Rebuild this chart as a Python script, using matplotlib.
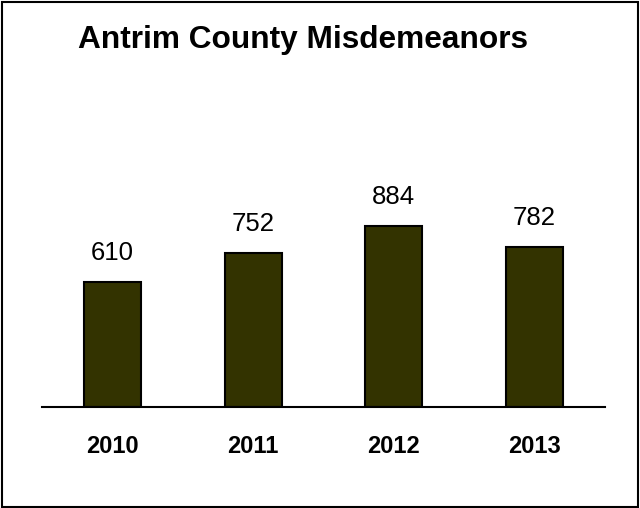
import matplotlib
matplotlib.use('Agg')
import matplotlib.pyplot as plt
from matplotlib.patches import Rectangle

years = ['2010', '2011', '2012', '2013']
counts = [610, 752, 884, 782]

plt.rcParams['font.family'] = ['Liberation Sans', 'DejaVu Sans']

fig = plt.figure(figsize=(6.4, 5.08), dpi=100)
ax = fig.add_axes([42 / 640, 101 / 508, 563 / 640, 205 / 508])

x = range(len(years))
ax.bar(x, counts, width=0.405, color='#333300', edgecolor='black', linewidth=1.5)

for i, v in zip(x, counts):
    ax.annotate(str(v), (i, v), xytext=(0, 21), textcoords='offset points',
                ha='center', va='center', fontsize=18.5)

ax.set_xlim(-0.5, len(years) - 0.5)
ax.set_ylim(0, 1000)
ax.set_xticks(list(x))
ax.set_xticklabels(years, fontsize=17, fontweight='bold')
ax.tick_params(axis='x', length=0, pad=20.5)
ax.set_yticks([])
for s in ['top', 'left', 'right']:
    ax.spines[s].set_visible(False)
ax.spines['bottom'].set_linewidth(1.5)

fig.text(78 / 640, (508 - 48) / 508, 'Antrim County Misdemeanors',
         fontsize=22.8, fontweight='bold', ha='left', va='baseline')

# frame around the whole chart
fig.patches.append(Rectangle((1.5 / 640, 1.5 / 508), 636 / 640, 505 / 508,
                             transform=fig.transFigure, fill=False,
                             edgecolor='black', linewidth=1.5))

fig.savefig('out.png', dpi=100)
